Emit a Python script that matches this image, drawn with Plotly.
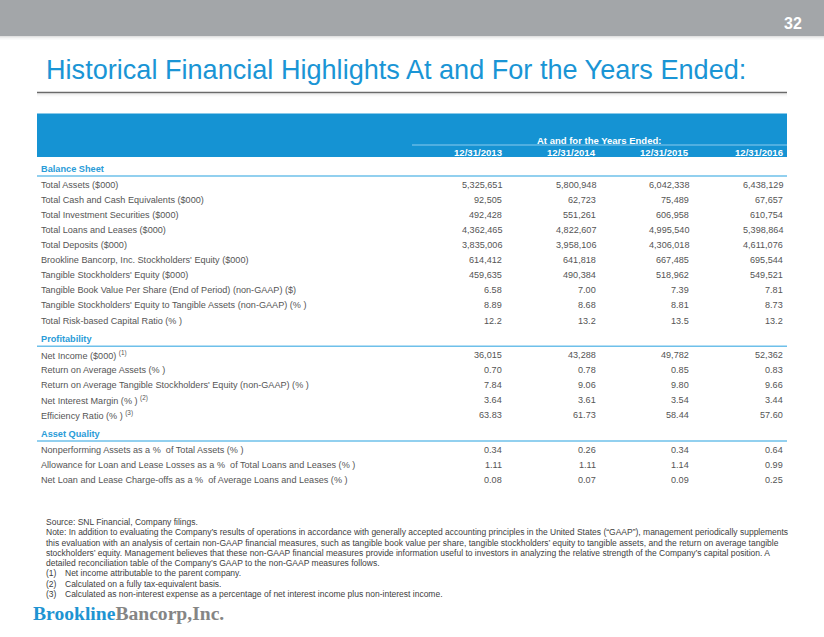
import plotly.graph_objects as go

# ---------------- data ----------------
years = ["12/31/2013", "12/31/2014", "12/31/2015", "12/31/2016"]
sections = ["Balance Sheet", "Profitability", "Asset Quality"]

balance_labels = [
    "Total Assets ($000)",
    "Total Cash and Cash Equivalents ($000)",
    "Total Investment Securities ($000)",
    "Total Loans and Leases ($000)",
    "Total Deposits ($000)",
    "Brookline Bancorp, Inc. Stockholders' Equity ($000)",
    "Tangible Stockholders' Equity ($000)",
    "Tangible Book Value Per Share (End of Period) (non-GAAP) ($)",
    "Tangible Stockholders' Equity to Tangible Assets (non-GAAP) (% )",
    "Total Risk-based Capital Ratio (% )",
]
balance_values = [
    ["5,325,651", "5,800,948", "6,042,338", "6,438,129"],
    ["92,505", "62,723", "75,489", "67,657"],
    ["492,428", "551,261", "606,958", "610,754"],
    ["4,362,465", "4,822,607", "4,995,540", "5,398,864"],
    ["3,835,006", "3,958,106", "4,306,018", "4,611,076"],
    ["614,412", "641,818", "667,485", "695,544"],
    ["459,635", "490,384", "518,962", "549,521"],
    ["6.58", "7.00", "7.39", "7.81"],
    ["8.89", "8.68", "8.81", "8.73"],
    ["12.2", "13.2", "13.5", "13.2"],
]

profit_labels = [
    "Net Income ($000) <sup>(1)</sup>",
    "Return on Average Assets (% )",
    "Return on Average Tangible Stockholders' Equity (non-GAAP) (% )",
    "Net Interest Margin (% ) <sup>(2)</sup>",
    "Efficiency Ratio (% ) <sup>(3)</sup>",
]
profit_values = [
    ["36,015", "43,288", "49,782", "52,362"],
    ["0.70", "0.78", "0.85", "0.83"],
    ["7.84", "9.06", "9.80", "9.66"],
    ["3.64", "3.61", "3.54", "3.44"],
    ["63.83", "61.73", "58.44", "57.60"],
]

quality_labels = [
    "Nonperforming Assets as a %  of Total Assets (% )",
    "Allowance for Loan and Lease Losses as a %  of Total Loans and Leases (% )",
    "Net Loan and Lease Charge-offs as a %  of Average Loans and Leases (% )",
]
quality_values = [
    ["0.34", "0.26", "0.34", "0.64"],
    ["1.11", "1.11", "1.14", "0.99"],
    ["0.08", "0.07", "0.09", "0.25"],
]

title_text = "Historical Financial Highlights At and For the Years Ended:"
header_text = "At and for the Years Ended:"
page_number = "32"

source_lines = [
    "Source: SNL Financial, Company filings.",
    "Note: In addition to evaluating the Company\u2019s results of operations in accordance with generally accepted accounting principles in the United States (\u201cGAAP\u201d), management periodically supplements",
    "this evaluation with an analysis of certain non-GAAP financial measures, such as tangible book value per share, tangible stockholders\u2019 equity to tangible assets, and the return on average tangible",
    "stockholders\u2019 equity. Management believes that these non-GAAP financial measures provide information useful to investors in analyzing the relative strength of the Company\u2019s capital position. A",
    "detailed reconciliation table of the Company\u2019s GAAP to the non-GAAP measures follows.",
]
footnote_numbers = ["(1)", "(2)", "(3)"]
footnote_texts = [
    "Net income attributable to the parent company.",
    "Calculated on a fully tax-equivalent basis.",
    "Calculated as non-interest expense as a percentage of net interest income plus non-interest income.",
]

# ---------------- styling / layout constants ----------------
W, H = 824, 637
FONT = "Liberation Sans, Arial, sans-serif"
BLUE = "#1593D3"
TITLE_BLUE = "#1A95D5"
SEC_BLUE = "#2A9CD8"
LINE_BLUE = "#6EC0EA"
TXT = "#555555"

TABLE_L, TABLE_R = 37, 787
LABEL_X = 40
COL_RIGHT = [504, 597.5, 691, 784.5]
ROW_H = 15.1

fig = go.Figure()
fig.add_trace(go.Scatter(x=[0], y=[0], mode="markers", marker=dict(opacity=0), hoverinfo="skip", showlegend=False))

shapes = []
ann = []

# grey top bar with soft shadow
shapes.append(dict(type="rect", x0=0, x1=W, y0=0, y1=36, fillcolor="#A3A6A9", line=dict(width=0), layer="below"))
for i, op in enumerate([0.25, 0.15, 0.08, 0.04]):
    shapes.append(dict(type="rect", x0=0, x1=W, y0=36 + i, y1=37 + i, fillcolor="#888888",
                       opacity=op, line=dict(width=0), layer="below"))
ann.append(dict(x=793, y=23.5, text="<b>" + page_number + "</b>", xanchor="center", yanchor="middle", showarrow=False,
                font=dict(family=FONT, size=16, color="white")))

# title + underline
ann.append(dict(x=44, y=69.5, text=title_text, xanchor="left", yanchor="middle", showarrow=False,
                font=dict(family=FONT, size=27.1, color=TITLE_BLUE)))
shapes.append(dict(type="line", x0=TABLE_L, x1=TABLE_R, y0=92.5, y1=92.5, line=dict(color="#6A6A6A", width=1.5)))
for i, op in enumerate([0.18, 0.09, 0.04]):
    shapes.append(dict(type="line", x0=TABLE_L, x1=TABLE_R, y0=94 + i, y1=94 + i,
                       line=dict(color="#999999", width=1), opacity=op))

# blue header block
shapes.append(dict(type="rect", x0=TABLE_L, x1=TABLE_R, y0=113.5, y1=157, fillcolor=BLUE, line=dict(width=0)))
shapes.append(dict(type="line", x0=412, x1=TABLE_R, y0=145, y1=145, line=dict(color="#8BCBEE", width=1)))
ann.append(dict(x=598.5, y=140.5, text="<b>" + header_text + "</b>", xanchor="center", yanchor="middle",
                showarrow=False, font=dict(family=FONT, size=9.5, color="white")))
for xr, yr in zip(COL_RIGHT, years):
    ann.append(dict(x=xr, y=152, text="<b>" + yr + "</b>", xanchor="right", yanchor="middle",
                    showarrow=False, font=dict(family=FONT, size=9.6, color="white")))

# table body
y = 169.0
for sec, labels, values in zip(sections, [balance_labels, profit_labels, quality_labels],
                               [balance_values, profit_values, quality_values]):
    ann.append(dict(x=LABEL_X - 1, y=y, text="<b>" + sec + "</b>", xanchor="left", yanchor="middle",
                    showarrow=False, font=dict(family=FONT, size=9.2, color=SEC_BLUE)))
    shapes.append(dict(type="line", x0=TABLE_L, x1=TABLE_R, y0=y + 7, y1=y + 7,
                       line=dict(color=LINE_BLUE, width=1.5)))
    ry = y + 15.6
    for lab, vals in zip(labels, values):
        ann.append(dict(x=LABEL_X - 1, y=ry, text=lab, xanchor="left", yanchor="middle", showarrow=False,
                        font=dict(family=FONT, size=9.1, color=TXT)))
        for xr, v in zip(COL_RIGHT, vals):
            ann.append(dict(x=xr, y=ry, text=v, xanchor="right", yanchor="middle", showarrow=False,
                            font=dict(family=FONT, size=9.1, color=TXT)))
        ry += ROW_H
    y = ry - ROW_H + 18.8

# footnotes
fy = 522.0
FN_H = 10.25
for line in source_lines:
    ann.append(dict(x=44, y=fy, text=line, xanchor="left", yanchor="middle", showarrow=False,
                    font=dict(family=FONT, size=8.5, color="#404040")))
    fy += FN_H
for num, txt in zip(footnote_numbers, footnote_texts):
    ann.append(dict(x=44, y=fy, text=num, xanchor="left", yanchor="middle", showarrow=False,
                    font=dict(family=FONT, size=8.5, color="#404040")))
    ann.append(dict(x=63, y=fy, text=txt, xanchor="left", yanchor="middle", showarrow=False,
                    font=dict(family=FONT, size=8.5, color="#404040")))
    fy += FN_H

# logo
ann.append(dict(x=31, y=613, xanchor="left", yanchor="middle", showarrow=False,
                text='<b><span style="color:#1E94D2">Brookline</span>'
                     '<span style="color:#858585">Bancorp,Inc.</span></b>',
                font=dict(family="Liberation Serif, Times New Roman, serif", size=19.6)))

fig.update_layout(
    width=W, height=H, margin=dict(l=0, r=0, t=0, b=0),
    paper_bgcolor="white", plot_bgcolor="white",
    xaxis=dict(range=[0, W], visible=False, fixedrange=True),
    yaxis=dict(range=[H, 0], visible=False, fixedrange=True),
    shapes=shapes, annotations=ann, showlegend=False,
)
fig.write_html("out.html", config={"displayModeBar": False},
               post_script="document.body.style.margin='0';document.body.style.overflow='hidden';")
